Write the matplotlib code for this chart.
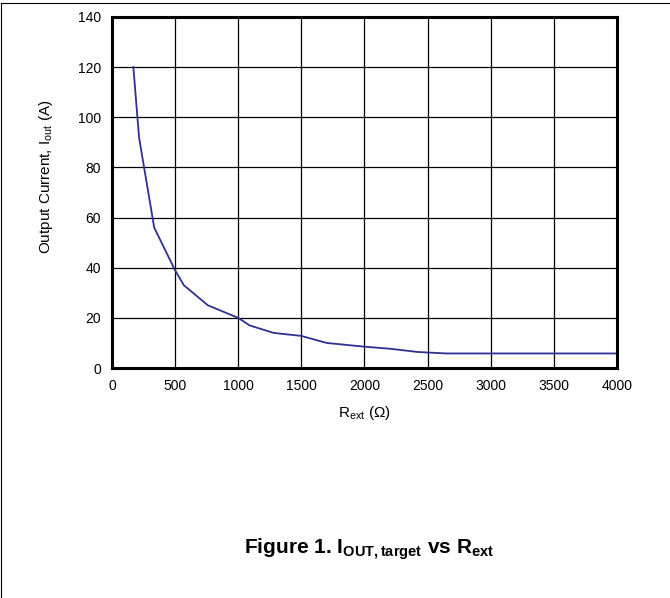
import matplotlib
matplotlib.use("Agg")
import matplotlib.pyplot as plt
from matplotlib.lines import Line2D

# External resistor (ohm) vs target output current (A)
r_ext = [170, 215, 335, 500, 570, 760, 1000, 1090, 1280, 1500, 1700, 2000, 2200, 2420, 2650, 3000, 4000]
i_out = [120, 92, 56, 39, 33, 25, 20, 17, 14, 12.8, 10, 8.5, 7.7, 6.4, 5.8, 5.8, 5.8]

x_ticks = [0, 500, 1000, 1500, 2000, 2500, 3000, 3500, 4000]
y_ticks = [0, 20, 40, 60, 80, 100, 120, 140]

plt.rcParams['font.family'] = ['Liberation Sans', 'DejaVu Sans']
plt.rcParams['mathtext.fontset'] = 'custom'
plt.rcParams['mathtext.rm'] = 'Liberation Sans'
plt.rcParams['mathtext.it'] = 'Liberation Sans'
plt.rcParams['mathtext.bf'] = 'Liberation Sans:bold'
plt.rcParams['mathtext.default'] = 'regular'

fig = plt.figure(figsize=(6.70, 5.98), dpi=100)
ax = fig.add_axes([0.167, 0.3846, 0.754, 0.587])

ax.plot(r_ext, i_out, color='#2e3192', linewidth=1.3)

ax.set_xlim(0, 4000)
ax.set_ylim(0, 140)
ax.set_xticks(x_ticks)
ax.set_yticks(y_ticks)
ax.tick_params(length=0, labelsize=10, pad=8)
ax.grid(True, color='black', linewidth=0.9)
ax.set_axisbelow(True)
for s in ax.spines.values():
    s.set_linewidth(2.2)
    s.set_color('black')

ax.set_xlabel(r"R$_{ext}$ ($\Omega$)", fontsize=11, labelpad=8)
ax.set_ylabel(r"Output Current, I$_{out}$ (A)", fontsize=11)
ax.yaxis.set_label_coords(-0.113, 0.544)

fig.text(0.551, 0.082, r"Figure 1. I$_{\mathbf{OUT,target}}$ vs R$_{\mathbf{ext}}$",
         ha='center', va='center', fontsize=15, fontweight='bold')

# page frame lines (left and top edges only are visible)
fig.lines.append(Line2D([0.002, 0.002], [0, 0.995], transform=fig.transFigure,
                        color='black', linewidth=0.8))
fig.lines.append(Line2D([0.002, 1], [0.995, 0.995], transform=fig.transFigure,
                        color='black', linewidth=0.8))

fig.savefig("out.png", dpi=100)
